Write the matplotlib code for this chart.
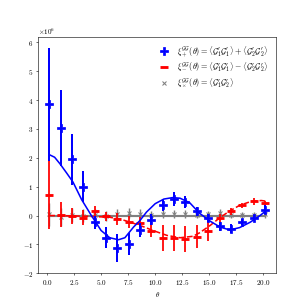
import numpy as np
import matplotlib
matplotlib.use("Agg")
import matplotlib.pyplot as plt
from matplotlib.lines import Line2D

plt.rcParams.update({
    "font.family": "serif",
    "font.serif": ["cmr10"],
    "mathtext.fontset": "cm",
    "axes.formatter.use_mathtext": True,
    "font.size": 10,
    "axes.unicode_minus": True,
})

scale = 1e6

# ── Measured correlation functions (units of 1e6) ─────────────────────────
theta = 0.2 + 1.05 * np.arange(20)

xi_p = [3.85, 3.03, 1.95, 1.00, -0.23, -0.77, -1.13, -1.00, -0.50, -0.14,
        0.37, 0.57, 0.46, 0.14, -0.09, -0.38, -0.46, -0.23, -0.08, 0.20]
xi_p_err = [1.97, 1.32, 0.88, 0.54, 0.22, 0.36, 0.48, 0.38, 0.25, 0.20,
            0.20, 0.25, 0.20, 0.15, 0.15, 0.15, 0.15, 0.10, 0.10, 0.15]

xi_m = [0.72, 0.03, -0.02, -0.07, 0.14, -0.03, -0.13, -0.23, -0.25, -0.52,
        -0.77, -0.77, -0.82, -0.74, -0.55, -0.09, 0.14, 0.35, 0.49, 0.43]
xi_m_err = [1.17, 0.43, 0.29, 0.25, 0.20, 0.15, 0.20, 0.20, 0.20, 0.22,
            0.45, 0.45, 0.45, 0.40, 0.35, 0.15, 0.12, 0.10, 0.12, 0.08]

xi_x = [0.05, -0.05, 0.02, 0.00, 0.03, -0.02, 0.05, 0.08, 0.06, 0.02,
        0.05, 0.05, 0.04, 0.03, 0.04, 0.08, 0.03, 0.02, 0.03, 0.05]
xi_x_err = [0.40, 0.30, 0.25, 0.22, 0.20, 0.18, 0.18, 0.18, 0.16, 0.15,
            0.15, 0.15, 0.14, 0.13, 0.13, 0.15, 0.12, 0.10, 0.10, 0.12]

# ── Model curves ───────────────────────────────────────────────────────────
th_p = [0.2, 0.7, 1.2, 1.8, 2.4, 3.2, 4.1, 5.0, 5.8, 6.6, 7.2, 8.0, 8.6, 9.2,
        10.0, 10.8, 11.6, 12.3, 13.2, 14.1, 15.1, 16.0, 16.9, 17.8, 18.8,
        19.7, 20.2]
mod_p = [2.11, 2.02, 1.79, 1.48, 1.16, 0.55, 0.00, -0.52, -0.77, -0.84,
         -0.77, -0.40, -0.17, 0.12, 0.41, 0.57, 0.62, 0.60, 0.44, 0.08,
         -0.20, -0.40, -0.50, -0.42, -0.23, 0.00, 0.15]

th_m = [0.2, 2.0, 4.0, 5.8, 6.8, 7.7, 9.0, 9.8, 11.1, 12.3, 13.5, 14.1, 15.1,
        16.0, 16.9, 17.8, 18.8, 19.8, 20.2]
mod_m = [0.00, -0.01, -0.03, -0.06, -0.13, -0.23, -0.40, -0.52, -0.69,
         -0.77, -0.72, -0.60, -0.34, -0.07, 0.16, 0.35, 0.48, 0.52, 0.50]

th_x = [0.2, 20.2]
mod_x = [0.0, 0.0]

s = lambda v: np.asarray(v) * scale

fig, ax = plt.subplots(figsize=(6, 6), dpi=307 / 6)

ax.plot(th_x, s(mod_x), color="gray", lw=3, zorder=1)
ax.errorbar(theta, s(xi_x), yerr=s(xi_x_err), fmt="x", color="gray",
            ms=6, mew=1.5, elinewidth=2, zorder=1)

ax.plot(th_m, s(mod_m), "--", color="red", lw=2.2, zorder=2)
ax.errorbar(theta, s(xi_m), yerr=s(xi_m_err), fmt="_", color="red",
            ms=11, mew=4, elinewidth=2.5, zorder=2)

ax.plot(th_p, s(mod_p), "-", color="blue", lw=2.2, zorder=3)
ax.errorbar(theta, s(xi_p), yerr=s(xi_p_err), fmt="P", color="blue",
            ms=12, elinewidth=2.8, zorder=3)

ax.set_ylim(-2e6, None)
ax.set_xlabel(r"$\theta$")
ax.set_xticks([0, 2.5, 5, 7.5, 10, 12.5, 15, 17.5, 20])

handles = [
    Line2D([0], [0], marker="P", color="blue", ls="none", ms=12),
    Line2D([0], [0], marker="_", color="red", ls="none", ms=11, mew=4),
    Line2D([0], [0], marker="x", color="gray", ls="none", ms=6, mew=1.5),
]
labels = [
    r"$\xi_+^{\mathcal{GG}}(\theta) = \langle\mathcal{G}_1^{\prime}\mathcal{G}_1^{\prime}\rangle"
    r" + \langle\mathcal{G}_2^{\prime}\mathcal{G}_2^{\prime}\rangle$",
    r"$\xi_-^{\mathcal{GG}}(\theta) = \langle\mathcal{G}_1^{\prime}\mathcal{G}_1^{\prime}\rangle"
    r" - \langle\mathcal{G}_2^{\prime}\mathcal{G}_2^{\prime}\rangle$",
    r"$\xi_\times^{\mathcal{GG}}(\theta) = \langle\mathcal{G}_1^{\prime}\mathcal{G}_2^{\prime}\rangle$",
]
ax.legend(handles, labels, loc="upper right", frameon=False, fontsize=11.5,
          handletextpad=0.6, labelspacing=0.25)

plt.savefig("out.png", dpi=307 / 6)
